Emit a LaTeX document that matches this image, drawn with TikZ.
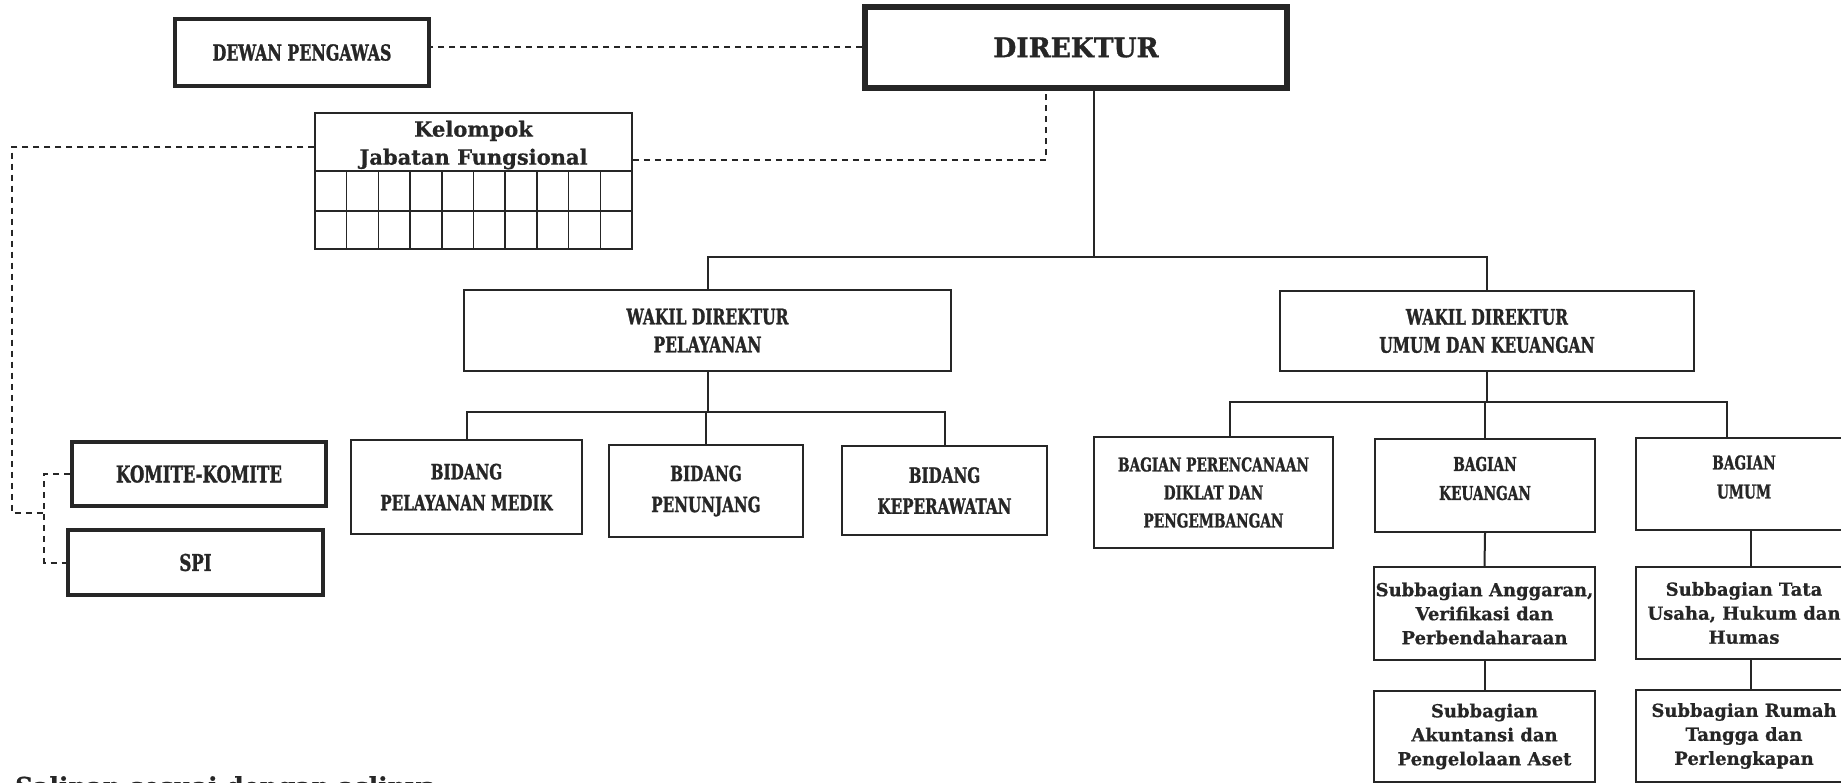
\documentclass[tikz,border=0pt]{standalone}
\usepackage{fontspec}
\setmainfont{DejaVu Serif}
\newfontfamily\capf[FakeStretch=0.72,FakeBold=1.2]{DejaVu Serif}
\newfontfamily\capd[FakeStretch=0.98,FakeBold=1.2]{DejaVu Serif}
\newfontfamily\subf[FakeBold=0.6]{DejaVu Serif}
\definecolor{ink}{HTML}{262626}
\begin{document}
\begin{tikzpicture}[x=1pt,y=-1pt,
  box/.style={draw=ink, line width=2pt, inner sep=0pt, align=center, text=ink},
  heavybox/.style={box, line width=4pt},
  caps/.style 2 args={font=\capf\bfseries\fontsize{#1}{#2}\selectfont},
  subt/.style={font=\subf\bfseries\fontsize{18}{24}\selectfont},
  conn/.style={draw=ink, line width=2pt},
  dline/.style={draw=ink, line width=2pt, dash pattern=on 6pt off 5pt},
  capl/.style={caps={19}{29}, align=center, text=ink, yshift=7pt}
]
\fill[white] (0,0) rectangle (1841,783);
\useasboundingbox (0,0) rectangle (1841,783);

% top
\node[heavybox, caps={22}{26}, minimum width=254, minimum height=67] (dewan) at (302,52.5) {DEWAN PENGAWAS};
\node[box, line width=6pt, font=\capd\bfseries\fontsize{27}{30}\selectfont, minimum width=422, minimum height=81] (dir) at (1076,47.5) {DIREKTUR};

% kelompok jabatan fungsional
\node[box, line width=1.5pt, minimum width=317, minimum height=136] (kjf) at (473.5,181) {};
\node[font=\subf\bfseries\fontsize{21}{28}\selectfont, align=center, text=ink] (kjft) at (473.5,145) {Kelompok\\Jabatan Fungsional};
\draw[ink, line width=1.5pt] (315,171) -- (632,171) (315,211) -- (632,211);
\foreach \i in {1,...,9} \draw[ink, line width=1.5pt] (315+31.7*\i,171) -- (315+31.7*\i,249);

% wakil direktur
\node[box, caps={21.5}{28}, minimum width=487, minimum height=81] (wp) at (707.5,330.5) {WAKIL DIREKTUR\\PELAYANAN};
\node[box, caps={21.5}{28}, minimum width=414, minimum height=80] (wu) at (1487,331) {WAKIL DIREKTUR\\UMUM DAN KEUANGAN};

% bidang
\node[box, caps={21}{31}, minimum width=231, minimum height=94] (b1) at (466.5,487) {BIDANG\\PELAYANAN MEDIK};
\node[box, caps={21}{31}, minimum width=194, minimum height=92] (b2) at (706,491) {BIDANG\\PENUNJANG};
\node[box, caps={21}{31}, minimum width=205, minimum height=89] (b3) at (944.5,490.5) {BIDANG\\KEPERAWATAN};

% bagian
\node[box, caps={19}{28}, minimum width=239, minimum height=111] (g1) at (1213.5,492.5) {BAGIAN PERENCANAAN\\DIKLAT DAN\\PENGEMBANGAN};
\node[box, minimum width=220, minimum height=93, label={[capl]center:{BAGIAN\\KEUANGAN}}] (g2) at (1485,485.5) {};
\node[box, minimum width=216, minimum height=92, label={[capl]center:{BAGIAN\\UMUM}}] (g3) at (1744,484) {};

% subbagian
\node[box, subt, minimum width=221, minimum height=93] (s1) at (1484.5,613.5) {Subbagian Anggaran,\\Verifikasi dan\\Perbendaharaan};
\node[box, subt, minimum width=221, minimum height=91] (s2) at (1484.5,736.5) {Subbagian\\Akuntansi dan\\Pengelolaan Aset};
\node[box, subt, minimum width=216, minimum height=92] (s3) at (1744,613) {Subbagian Tata\\Usaha, Hukum dan\\Humas};
\node[box, subt, minimum width=216, minimum height=92] (s4) at (1744,736) {Subbagian Rumah\\Tangga dan\\Perlengkapan};

% komite, spi
\node[heavybox, caps={23}{26}, minimum width=254, minimum height=64] (kom) at (199,474) {KOMITE-KOMITE};
\node[heavybox, caps={23}{26}, minimum width=255, minimum height=65] (spi) at (195.5,562.5) {SPI};

% note
\node[anchor=north west, inner sep=0pt, font=\subf\bfseries\fontsize{25}{30}\selectfont, text=ink] (note) at (15,776) {Salinan sesuai dengan aslinya};

% helper coordinates
\coordinate (j1) at (1094,257);
\coordinate (j2) at (706,412);
\coordinate (j3) at (1488,402);
\coordinate (j4) at (1046,160);
\coordinate (j5) at (12,147);
\coordinate (j6) at (44,513);
\path (g1.north) ++(16.5,0) coordinate (g1t);
\path (g3.north) ++(-17,0) coordinate (g3t);
\path (g3.south) ++(7,0) coordinate (g3b);
\path (s3.north) ++(7,0) coordinate (s3t);
\path (s3.south) ++(7,0) coordinate (s3b);
\path (s4.north) ++(7,0) coordinate (s4t);

% solid connectors
\draw[conn] (dir.south -| j1) -- (j1);
\draw[conn] (wp.north) |- (j1) -| (wu.north);
\draw[conn] (wp.south) -- (wp.south |- j2);
\draw[conn] (b1.north) |- (j2) -| (b3.north);
\draw[conn] (b2.north) -- (b2.north |- j2);
\draw[conn] (wu.south) -- (wu.south |- j3);
\draw[conn] (g1t) |- (j3) -| (g3t);
\draw[conn] (g2.north) -- (g2.north |- j3);
\draw[conn] (g2.south) -- (s1.north);
\draw[conn] (s1.south) -- (s2.north);
\draw[conn] (g3b) -- (s3t);
\draw[conn] (s3b) -- (s4t);

% dashed connectors
\draw[dline] (dir.west) -- (dir.west -| dewan.east);
\draw[dline] (kjf.east |- j4) -| (dir.south -| j4);
\draw[dline] (kjf.west |- j5) -- (j5) |- (j6);
\draw[dline] (kom.west) -| (j6) |- (spi.west);
\end{tikzpicture}
\end{document}
